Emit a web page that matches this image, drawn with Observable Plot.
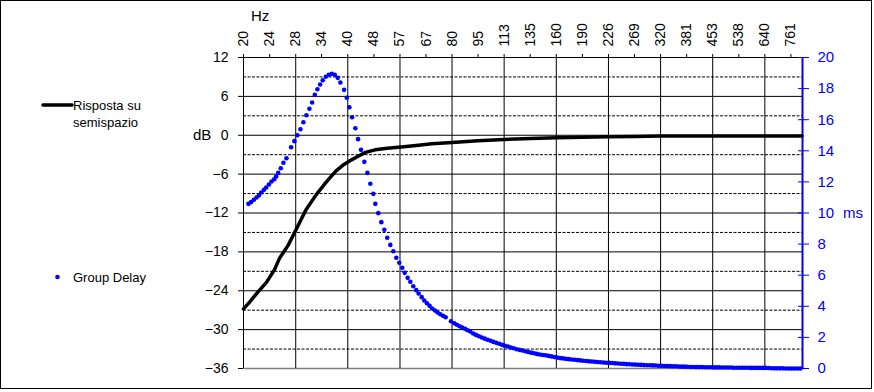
<!DOCTYPE html>
<html><head><meta charset="utf-8">
<script src="https://cdn.jsdelivr.net/npm/d3@7"></script>
<script src="https://cdn.jsdelivr.net/npm/@observablehq/plot@0.6"></script>
<style>body{margin:0;background:#fff} svg{display:block}</style>
</head><body><div id="chart"></div><script>
// ---- data ----
const hzTicks = [20, 23.8, 28.3, 33.6, 40, 47.6, 56.6, 67.3, 80, 95.1, 113.1, 134.5, 160, 190.3, 226.3, 269.1, 320, 380.5, 452.5, 538.2, 640, 761.1];
const hzLabels = ["20","24","28","34","40","48","57","67","80","95","113","135","160","190","226","269","320","381","453","538","640","761"];
const hzGrid = [20, 28.3, 40, 56.6, 80, 113.1, 160, 226.3, 320, 452.5, 640];
const dbTicks = [-36, -30, -24, -18, -12, -6, 0, 6, 12];
const dbMinor = [-33, -27, -21, -15, -9, -3, 3, 9];
const msTicks = [0, 2, 4, 6, 8, 10, 12, 14, 16, 18, 20];

// Risposta su semispazio (dB)
const respFreq = [20, 20.8, 22.0, 23.3, 24.6, 25.4, 26.9, 28.4, 30.3, 32.4, 34.7, 37.0, 39.0, 41.0, 43.0, 45.0, 48.0, 52.0, 57.0, 63.0, 70.0, 80.0, 95.0, 113, 135, 160, 190, 226, 269, 320, 381, 453, 538, 640, 761, 820];
const respDb = [-26.8, -25.8, -24.2, -22.7, -20.7, -19.0, -17.0, -14.5, -11.5, -9.2, -7.2, -5.5, -4.5, -3.8, -3.2, -2.65, -2.25, -2.0, -1.8, -1.57, -1.32, -1.12, -0.85, -0.65, -0.5, -0.4, -0.3, -0.25, -0.2, -0.12, -0.1, -0.1, -0.1, -0.1, -0.1, -0.1];

// Group Delay (ms)
const delayFreq = [20.67, 21.04, 21.42, 21.81, 22.16, 22.50, 22.91, 23.26, 23.68, 24.09, 24.53, 24.85, 25.19, 25.63, 26.08, 26.61, 27.45, 28.06, 28.62, 29.20, 29.78, 30.38, 31.00, 31.56, 32.13, 32.69, 33.29, 33.87, 34.56, 35.26, 35.97, 36.68, 37.42, 38.08, 39.03, 39.73, 40.43, 41.15, 42.07, 42.84, 43.68, 44.66, 45.57, 46.47, 47.41, 48.04, 49.0, 50.0, 51.0, 52.0, 53.07, 54.15, 55.24, 56.33, 57.47, 58.39, 59.57, 60.63, 61.83, 63.07, 64.08, 65.38, 66.52, 67.72, 68.91, 70.12, 71.4, 72.7, 73.97, 75.32, 76.68, 79.43, 81.2, 82.6, 84.1, 85.6, 87.2, 88.7, 90.3,
  92.06, 93.85, 95.67, 97.53, 99.43, 101.36, 103.33, 105.34, 107.39, 109.47, 111.60, 113.77, 115.98, 118.23, 120.53, 122.88, 125.26, 127.70, 130.18, 132.71, 135.29, 137.92, 140.60, 143.34, 146.12, 148.96, 151.86, 154.81, 157.82, 160.89, 164.02, 167.20, 170.45, 173.77, 177.14,
  180.60, 184.12, 187.70, 191.34, 195.06, 198.86, 202.72, 206.66, 210.68, 214.78, 218.94, 223.20, 227.54, 231.96, 236.46, 241.06, 245.76, 250.52, 255.40, 260.36, 265.42, 270.58, 275.84, 281.20, 286.68, 292.24, 297.92, 303.72, 309.62, 315.64, 321.78, 328.04, 334.40, 340.90, 347.54, 354.28,
  361.20, 368.24, 375.40, 382.68, 390.12, 397.72, 405.44, 413.32, 421.36, 429.56, 437.88, 446.40, 455.08, 463.92, 472.92, 482.12, 491.52, 501.04, 510.80, 520.72, 530.84, 541.16, 551.68, 562.40, 573.36, 584.48, 595.84, 607.44, 619.24, 631.28, 643.56, 656.08, 668.80, 681.80, 695.08, 708.56,
  722.40, 736.48, 750.80, 765.36, 780.24, 795.44, 810.88];
const delayMs = [10.59, 10.70, 10.85, 11.00, 11.13, 11.32, 11.49, 11.64, 11.83, 12.03, 12.17, 12.35, 12.58, 12.88, 13.23, 13.52, 14.23, 14.62, 15.00, 15.39, 15.84, 16.29, 16.70, 17.11, 17.60, 17.96, 18.26, 18.54, 18.76, 18.89, 18.95, 18.89, 18.69, 18.39, 17.92, 17.41, 16.80, 16.16, 15.45, 14.75, 14.06, 13.29, 12.58, 11.88, 11.23, 10.59, 9.99, 9.41, 8.92, 8.41, 7.95, 7.54, 7.12, 6.80, 6.48, 6.15, 5.83, 5.58, 5.29, 5.04, 4.82, 4.59, 4.37, 4.20, 4.03, 3.86, 3.73, 3.60, 3.49, 3.39, 3.30, 3.04, 2.91, 2.81, 2.72, 2.64, 2.55, 2.46, 2.38,
  2.25, 2.16, 2.07, 1.99, 1.92, 1.85, 1.78, 1.71, 1.65, 1.59,
  1.52, 1.46, 1.41, 1.35, 1.30, 1.24, 1.20, 1.16, 1.11, 1.06,
  1.02, 0.98, 0.94, 0.90, 0.87, 0.85, 0.81, 0.78, 0.74, 0.70,
  0.67, 0.65, 0.62, 0.60, 0.58, 0.56, 0.54, 0.52, 0.50, 0.48,
  0.46, 0.45, 0.43, 0.42, 0.40, 0.39, 0.37, 0.36, 0.35, 0.33,
  0.32, 0.31, 0.30, 0.28, 0.27, 0.26, 0.25, 0.24, 0.23, 0.22,
  0.21, 0.21, 0.20, 0.19, 0.18, 0.17, 0.16, 0.16, 0.15, 0.14,
  0.14, 0.13, 0.12, 0.12, 0.11, 0.10, 0.10, 0.09, 0.09, 0.09,
  0.08, 0.08, 0.08, 0.07, 0.07, 0.07, 0.06, 0.06, 0.06, 0.06,
  0.05, 0.05, 0.05, 0.05, 0.05, 0.05, 0.04, 0.04, 0.04, 0.04,
  0.04, 0.04, 0.03, 0.02, 0.01, 0.01, 0.01, 0.01, 0.0, 0.0,
  0.0, 0.0, 0.0, 0.0];

// ---- build ----
const BLUE = "#0000ff";
const msToDb = m => -36 + m * 48 / 20; // right axis 0..20 ms maps onto -36..12 dB
const resp = respFreq.map((f, i) => ({f, v: respDb[i]}));
const n = Math.min(delayFreq.length, delayMs.length);
const delay = delayFreq.slice(0, n).map((f, i) => ({f, v: msToDb(delayMs[i])}));
const hzLab = hzTicks.map((f, i) => ({f, t: hzLabels[i]}));
const FONT = "'Liberation Sans', Arial, sans-serif";

const chart = Plot.plot({
  width: 874, height: 392,
  marginLeft: 243, marginRight: 72, marginTop: 57, marginBottom: 24,
  style: {fontFamily: FONT, background: "#fff", overflow: "visible", color: "#000"},
  x: {type: "log", domain: [20, 822]},
  y: {domain: [-36, 12]},
  marks: [
    Plot.ruleY(dbMinor, {stroke: "#000", strokeWidth: 1, strokeDasharray: "3,1.5"}),
    Plot.ruleY(dbTicks.filter(d => d > -36), {stroke: "#000", strokeWidth: 1}),
    Plot.ruleY([-36], {stroke: "#808080", strokeWidth: 1.5}),
    Plot.ruleX(hzGrid, {stroke: "#000", strokeWidth: 1}),
    Plot.ruleX([822], {stroke: BLUE, strokeWidth: 2}),
    Plot.axisX(hzTicks, {anchor: "top", tickSize: 4, tickFormat: () => "", label: null}),
    Plot.text(hzLab, {x: "f", text: "t", frameAnchor: "top", rotate: -90, textAnchor: "start",
      lineAnchor: "middle", dy: -11, fontSize: 14}),
    Plot.axisY(dbTicks, {anchor: "left", tickSize: 5, tickPadding: 10, fontSize: 14, label: null}),
    Plot.axisY(msTicks.map(msToDb), {anchor: "right", color: BLUE, tickSize: 11, dx: -5, tickPadding: 9,
      fontSize: 15, tickFormat: d => String(Math.round((d + 36) * 20 / 48)), label: null}),
    Plot.line(resp, {x: "f", y: "v", stroke: "#000", strokeWidth: 3.5, strokeLinejoin: "round", strokeLinecap: "round"}),
    Plot.dot(delay, {x: "f", y: "v", r: 2.3, fill: BLUE, stroke: "none"})
  ]
});

document.getElementById("chart").appendChild(chart);

// ---- annotations (axis titles, legend, outer frame) ----
const svg = d3.select(chart);
const txt = (x, y, s, size, color) => svg.append("text").attr("x", x).attr("y", y)
  .attr("text-anchor", "start").attr("font-family", FONT).attr("font-size", size)
  .attr("fill", color || "#000").text(s);
txt(251, 21, "Hz", 15);
txt(193, 140, "dB", 15);
txt(843, 218, "ms", 15, BLUE);
svg.append("line").attr("x1", 43).attr("x2", 72).attr("y1", 105).attr("y2", 105)
  .attr("stroke", "#000").attr("stroke-width", 3.5).attr("stroke-linecap", "round");
txt(73, 110, "Risposta su", 13);
txt(73, 127, "semispazio", 13);
svg.append("circle").attr("cx", 57.5).attr("cy", 277).attr("r", 2.3).attr("fill", BLUE);
txt(73, 282, "Group Delay", 13);
svg.append("rect").attr("x", 0.5).attr("y", 0.5).attr("width", 871).attr("height", 388)
  .attr("fill", "none").attr("stroke", "#000").attr("stroke-width", 1);
</script></body></html>
